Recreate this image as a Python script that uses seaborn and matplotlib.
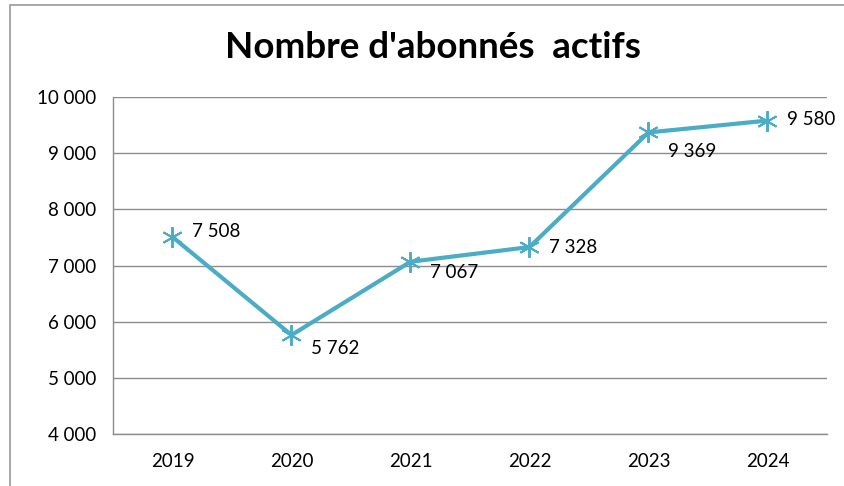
import matplotlib
matplotlib.use("Agg")
import matplotlib.pyplot as plt
import matplotlib.patches as mpatches
import numpy as np
import pandas as pd
import seaborn as sns

years = ["2019", "2020", "2021", "2022", "2023", "2024"]
abonnes = [7508, 5762, 7067, 7328, 9369, 9580]
# label offsets in points (dx, dy) relative to each marker
label_offsets = [(14, 4), (14, -10), (14, -8), (14, 0), (14, -14), (14, 1)]

LINE_COLOR = "#4BACC6"
GRID_COLOR = "#8c8c8c"


def fmt(v):
	return f"{v:,.0f}".replace(",", " ")


def main() -> None:
	sns.set_theme(style="white")
	plt.rcParams["font.family"] = ["Lato", "DejaVu Sans"]

	df = pd.DataFrame({"pos": np.arange(len(years)), "year": years, "value": abonnes})

	fig = plt.figure(figsize=(8.45, 4.86), dpi=100)
	ax = fig.add_axes([113 / 845, 1 - 434 / 486, (827 - 113) / 845, (434 - 97) / 486])

	# outer chart border
	fig.patches.append(
		mpatches.Rectangle(
			(10 / 845, -0.05), 1.2, 1 - 5 / 486 + 0.05,
			transform=fig.transFigure, fill=False, edgecolor="#9a9a9a", linewidth=1.2,
		)
	)

	sns.lineplot(
		data=df, x="pos", y="value", ax=ax, color=LINE_COLOR, linewidth=3,
		marker=(6, 2, 0), markersize=15, markeredgewidth=1.4,
		markeredgecolor=LINE_COLOR, legend=False,
	)

	for (x, v), (dx, dy) in zip(zip(df["pos"], df["value"]), label_offsets):
		ax.annotate(
			fmt(v), (x, v), xytext=(dx, dy), textcoords="offset points",
			ha="left", va="center", fontsize=13.5, color="black",
		)

	ax.set_xlim(-0.5, len(years) - 0.5)
	ax.set_ylim(4000, 10000)
	ax.set_yticks(np.arange(4000, 10001, 1000))
	ax.set_yticklabels([fmt(v) for v in np.arange(4000, 10001, 1000)], fontsize=13.5)
	ax.set_xticks(df["pos"])
	ax.set_xticklabels(years, fontsize=13.5)
	ax.set_xticks(np.arange(-0.5, len(years)), minor=True)
	ax.tick_params(axis="x", which="major", length=0, pad=14, colors="black")
	ax.tick_params(axis="x", which="minor", length=6, width=1, color=GRID_COLOR, direction="out")
	ax.tick_params(axis="y", length=6, width=1, direction="out", pad=6, colors="black")
	ax.tick_params(axis="y", color=GRID_COLOR)

	ax.yaxis.grid(True, color=GRID_COLOR, linewidth=1)
	ax.set_axisbelow(True)
	for side in ["top", "right"]:
		ax.spines[side].set_visible(False)
	for side in ["left", "bottom"]:
		ax.spines[side].set_color(GRID_COLOR)
		ax.spines[side].set_linewidth(1)
	ax.set_xlabel("")
	ax.set_ylabel("")

	fig.text(433 / 845, 1 - 47 / 486, "Nombre d'abonnés  actifs", ha="center", va="center",
		fontsize=26.5, fontweight="bold", color="black")

	fig.savefig("out.png", dpi=100)


if __name__ == "__main__":
	main()
